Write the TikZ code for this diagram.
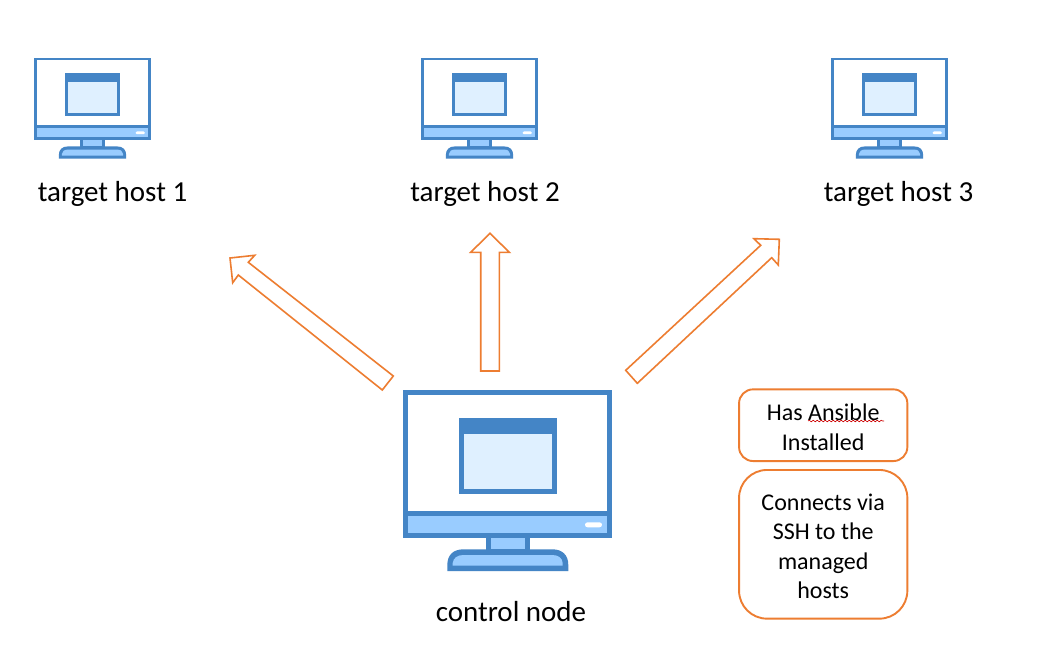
\documentclass[tikz,border=0pt]{standalone}
\usepackage{fontspec}
\setmainfont{Carlito}
\usetikzlibrary{decorations.pathmorphing}
\definecolor{edge}{HTML}{4485C6}
\definecolor{panel}{HTML}{99CCFF}
\definecolor{pane}{HTML}{DFF0FF}
\definecolor{accent}{HTML}{ED7D31}
\tikzset{
  monitor/.pic={
    \fill[edge] (0,0) rectangle (209,147.7);
    \fill[white] (5,5) rectangle (204,121);
    \fill[panel] (5,126) rectangle (204,142.7);
    \fill[white] (184.2,132.3) -- (196.2,132.3) .. controls (199.5,132.3) and (199.5,137.3) .. (196.2,137.3)
      -- (184.2,137.3) .. controls (180.9,137.3) and (180.9,132.3) .. (184.2,132.3) -- cycle;
    \fill[edge] (55.4,27.7) rectangle (154,104.3);
    \fill[pane] (60.4,44) rectangle (149,99.3);
    \fill[edge] (82.7,147) rectangle (126.7,162);
    \fill[panel] (87.7,147.7) rectangle (121.7,159.3);
    \fill[edge] (44,181) -- (44,175) .. controls (44,165) and (50,159.3) .. (60,159.3)
      -- (149,159.3) .. controls (159,159.3) and (165,165) .. (165,175) -- (165,181) -- cycle;
    \fill[panel] (49.4,175.7) -- (49.4,173) .. controls (50,168) and (54,165) .. (60,165)
      -- (149,165) .. controls (155,165) and (159,168) .. (159.4,173) -- (159.4,175.7) -- cycle;
  },
  blockarrow/.style={draw=accent,line width=1.6pt,line join=miter,fill=white},
  hostlabel/.style={font=\fontsize{29}{34}\selectfont,anchor=base,inner sep=0pt},
  notebox/.style={draw=accent,line width=1.9pt,fill=white,align=center,inner sep=0pt,
    font=\fontsize{24}{29.5}\selectfont,minimum width=168.3pt},
}
\begin{document}
\begin{tikzpicture}[x=1pt,y=-1pt]
\useasboundingbox (0,0) rectangle (1038,670);
\fill[white] (0,0) rectangle (1038,670);
\pic (host1) at (34.3,57.7) [scale=.557] {monitor};
\pic (host2) at (421.3,57.7) [scale=.557] {monitor};
\pic (host3) at (831.3,57.7) [scale=.557] {monitor};
\pic (control) at (403.3,390) {monitor};
\node[hostlabel] (label1) at (112.5,201.2) {target host 1};
\node[hostlabel] (label2) at (485,201.2) {target host 2};
\node[hostlabel] (label3) at (898.5,201.2) {target host 3};
\node[hostlabel] (labelc) at (511,621.2) {control node};
\draw[blockarrow] (230,258) -- (254.7,255.3) -- (248.3,262.3) -- (393.3,376) -- (382.3,390) -- (238.3,275) -- (232.7,282.7) -- cycle;
\draw[blockarrow] (490,233.3) -- (509.3,252.3) -- (499.3,252.3) -- (499.3,371) -- (480.7,371) -- (480.7,252.3) -- (470.7,252.3) -- cycle;
\draw[blockarrow] (779.3,239.3) -- (778.3,265) -- (771.7,257.7) -- (637.3,383.3) -- (625.7,370.3) -- (760.7,245.3) -- (754,238.7) -- cycle;
\node[notebox,rounded corners=14pt,minimum height=71.7pt] (note1) at (823.2,425.2) {\rule{0pt}{21pt}Has Ansible\\Installed};
\node[notebox,rounded corners=28pt,minimum height=148.7pt] (note2) at (823.2,544.3) {\rule{0pt}{21pt}Connects via\\SSH to the\\managed\\hosts};
\coordinate (squiggleA) at (808,421);
\coordinate (squiggleB) at (884,421);
\draw[red!80!black,line width=.6pt,decorate,decoration={snake,amplitude=.8pt,segment length=4pt}] (squiggleA) -- (squiggleB);
\end{tikzpicture}
\end{document}
